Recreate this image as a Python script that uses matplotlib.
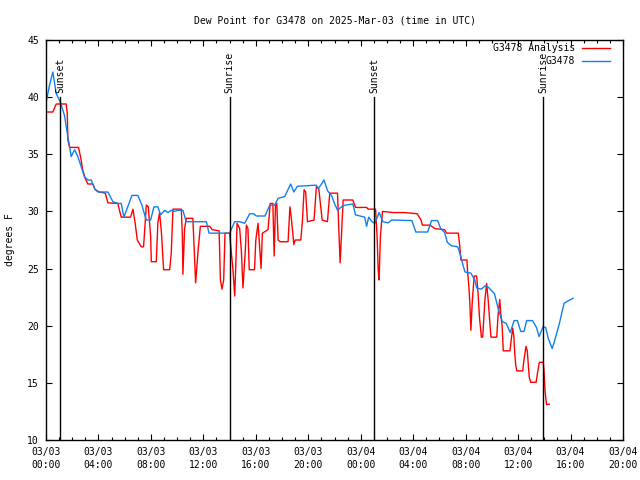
import pandas as pd
import matplotlib
matplotlib.use('Agg')
import matplotlib.pyplot as plt
from matplotlib.ticker import FixedLocator

start = pd.Timestamp('2025-03-03 00:00')
end = pd.Timestamp('2025-03-04 20:00')

# G3478 Analysis (red), hours after start
anaHours = [0.0, 0.52, 0.78, 1.54, 1.62, 1.67, 1.8, 2.48, 2.63, 2.81, 2.99, 3.19, 3.57, 3.75,
            4.08, 4.52, 4.72, 5.48, 5.6, 5.74, 6.45, 6.63, 6.8, 6.96, 7.27, 7.44, 7.65, 7.8,
            7.98, 8.03, 8.41, 8.53, 8.66, 8.8, 8.97, 9.43, 9.55, 9.68, 10.32, 10.4, 10.44,
            10.57, 10.7, 11.2, 11.3, 11.41, 11.6, 11.77, 12.48, 12.68, 13.2, 13.3, 13.42,
            13.55, 13.65, 14.0, 14.14, 14.25, 14.39, 14.47, 14.57, 14.77, 14.9, 15.02, 15.2,
            15.28, 15.4, 15.5, 15.9, 16.0, 16.17, 16.3, 16.4, 16.5, 16.93, 17.1, 17.3, 17.4,
            17.5, 17.6, 17.7, 17.85, 18.46, 18.6, 18.7, 18.9, 19.0, 19.43, 19.55, 19.68, 19.8,
            19.94, 20.44, 20.62, 20.8, 21.06, 21.46, 21.64, 22.23, 22.33, 22.43, 22.66, 23.4,
            23.6, 24.45, 24.57, 25.13, 25.25, 25.33, 25.4, 25.5, 25.66, 26.5, 27.37, 28.3,
            28.6, 28.7, 29.28, 29.66, 30.4, 30.55, 31.44, 31.55, 31.64, 32.1, 32.15, 32.25,
            32.32, 32.4, 32.5, 32.65, 32.84, 32.95, 33.05, 33.2, 33.3, 33.47, 33.6, 33.7,
            33.8, 33.93, 34.37, 34.48, 34.6, 34.68, 34.78, 34.87, 35.38, 35.5, 35.59, 35.68,
            35.75, 35.82, 35.9, 36.35, 36.45, 36.6, 36.7, 36.85, 36.96, 37.37, 37.5, 37.62,
            37.92, 37.98, 38.05, 38.1, 38.17, 38.38]
anaDew = [38.7, 38.7, 39.4, 39.4, 38.6, 36.25, 35.6, 35.6, 34.8, 33.6, 32.9, 32.4, 32.4, 31.9,
          31.7, 31.6, 30.75, 30.7, 30.1, 29.5, 29.5, 30.2, 28.96, 27.5, 26.9, 26.9, 30.55, 30.4,
          27.8, 25.6, 25.6, 29.0, 29.9, 28.2, 24.9, 24.9, 26.3, 30.2, 30.2, 27.8, 24.5,
          28.5, 29.4, 29.4, 26.6, 23.75, 26.6, 28.7, 28.7, 28.4, 28.3, 24.0, 23.2,
          24.0, 28.1, 28.1, 26.3, 25.0, 22.6, 25.2, 28.96, 28.5, 26.5, 23.3, 26.6,
          28.8, 28.5, 24.9, 24.9, 27.5, 28.96, 26.8, 25.0, 28.1, 28.4, 30.7, 30.7, 26.1,
          30.5, 30.7, 27.5, 27.35, 27.35, 30.4, 29.5, 27.1, 27.5, 27.5, 29.1, 31.9, 31.7,
          29.1, 29.25, 32.2, 32.0, 29.25, 29.1, 31.6, 31.6, 28.4, 25.5, 31.0, 31.0,
          30.35, 30.35, 30.2, 30.2, 27.8, 24.9, 24.0, 27.8, 30.0, 29.9, 29.9, 29.8,
          29.25, 28.8, 28.8, 28.5, 28.4, 28.1, 28.1, 27.0, 25.75, 25.75, 24.7, 23.4,
          22.0, 19.6, 22.0, 24.35, 24.35, 22.8, 20.8, 19.0, 19.0, 22.25, 23.7, 22.5,
          21.0, 19.0, 19.0, 21.05, 22.3, 21.05, 20.05, 17.8, 17.8, 19.0, 19.8, 19.0,
          17.5, 16.55, 16.05, 16.05, 17.0, 18.2, 17.8, 15.5, 15.05, 15.05, 16.0, 16.8,
          16.8, 16.0, 14.4, 13.8, 13.1, 13.13]

# G3478 observations (blue), hours after start
obsHours = [0.0, 0.26, 0.52, 0.78, 1.08, 1.41, 1.67, 1.8, 1.92, 2.18, 2.43, 2.69, 2.94, 3.19,
            3.45, 3.7, 3.95, 4.72, 5.1, 5.5, 5.74, 5.94, 6.2, 6.55, 7.0, 7.3, 7.5, 7.65, 7.98,
            8.23, 8.53, 8.74, 9.05, 9.3, 9.56, 9.8, 10.06, 10.44, 10.65, 10.7, 12.23, 12.43,
            14.0, 14.39, 14.77, 15.15, 15.53, 15.8, 16.04, 16.7, 17.06, 17.44, 17.7, 18.2,
            18.66, 18.9, 19.17, 20.6, 20.75, 20.95, 21.2, 21.47, 21.77, 22.0, 22.23, 22.53,
            22.8, 23.4, 23.6, 24.3, 24.45, 24.6, 24.87, 25.08, 25.4, 25.7, 26.1, 26.35, 27.9,
            28.2, 29.1, 29.4, 29.86, 30.1, 30.4, 30.6, 30.9, 31.4, 31.6, 31.8, 31.95, 32.4,
            32.7, 32.84, 33.2, 33.5, 33.7, 34.2, 34.5, 34.8, 35.1, 35.4, 35.7, 35.95, 36.2,
            36.45, 36.65, 37.1, 37.4, 37.6, 37.9, 38.1, 38.3, 38.6, 38.8, 39.15, 39.5, 39.85,
            40.2]
obsDew = [39.5, 41.0, 42.2, 40.3, 39.6, 38.4, 36.5, 35.7, 34.8, 35.4, 34.8, 33.9, 33.0, 32.75,
          32.75, 32.0, 31.7, 31.7, 30.85, 30.7, 30.7, 29.5, 30.3, 31.4, 31.4, 30.6, 29.8, 29.25,
          29.25, 30.4, 30.4, 29.7, 30.1, 29.9, 30.1, 30.0, 30.1, 30.1, 29.25, 29.1, 29.1, 28.1,
          28.1, 29.1, 29.1, 28.96, 29.8, 29.8, 29.6, 29.6, 30.55, 30.55, 31.15, 31.3,
          32.4, 31.7, 32.2, 32.3, 32.0, 32.3, 32.75, 31.8, 31.4, 30.7, 30.1, 30.4,
          30.55, 30.65, 29.7, 29.5, 28.7, 29.5, 29.1, 28.96, 29.9, 29.1, 29.0, 29.25, 29.2,
          28.2, 28.2, 29.2, 29.2, 28.5, 28.15, 27.3, 27.0, 26.9, 26.2, 25.3, 24.7, 24.6,
          24.0, 23.3, 23.2, 23.5, 23.4, 22.8, 21.4, 20.35, 20.2, 19.4, 20.45, 20.45, 19.5,
          19.5, 20.45, 20.45, 19.85, 19.05, 19.9, 19.85, 18.9, 18.0, 18.75, 20.2, 21.95, 22.2,
          22.4]

sunNames = ['Sunset', 'Sunrise', 'Sunset', 'Sunrise']
sunTimes = ['2025-03-03 01:04', '2025-03-03 14:00', '2025-03-04 01:03', '2025-03-04 13:55']

plt.rcParams['font.family'] = 'DejaVu Sans Mono'
plt.rcParams['font.size'] = 7

fig = plt.figure(figsize=(6.4, 4.8), dpi=100)
ax = fig.add_axes([46/640, 40/480, 577/640, 400/480])

anaTimes = start + pd.to_timedelta(anaHours, unit='h')
obsTimes = start + pd.to_timedelta(obsHours, unit='h')
ax.plot(anaTimes, anaDew, color='#ff0000', lw=1.0, label='G3478 Analysis')
ax.plot(obsTimes, obsDew, color='#1080f0', lw=1.0, label='G3478')

for name, t in zip(sunNames, sunTimes):
    t = pd.Timestamp(t)
    ax.plot([t, t], [10, 40], color='black', lw=1.0)
    ax.text(t, 40.35, name, rotation=90, ha='center', va='bottom')

ax.set_xlim(start, end)
ax.set_ylim(10, 45)

tickTimes = pd.date_range(start, end, freq='4h')
tickLabels = [t.strftime('%m/%d\n%H:%M') for t in tickTimes]
ax.set_xticks(tickTimes, tickLabels)
for lbl in ax.get_xticklabels():
    lbl.set_linespacing(1.35)
ax.xaxis.set_minor_locator(FixedLocator(matplotlib.dates.date2num(pd.date_range(start, end, freq='1h'))))
ax.set_yticks(range(10, 46, 5))

ax.tick_params(which='both', direction='in', top=True, right=True, width=0.8, colors='black')
ax.tick_params(which='major', length=4, pad=5)
ax.tick_params(which='minor', length=2)
for s in ax.spines.values():
    s.set_linewidth(1.0)

ax.set_title('Dew Point for G3478 on 2025-Mar-03 (time in UTC)', pad=12, fontsize=7)
ax.set_ylabel('degrees F', labelpad=9)

ax.legend(loc='upper right', bbox_to_anchor=(1 - 13/577, 1 - 3/400), frameon=False,
          markerfirst=False, handlelength=2.9, handletextpad=0.7, labelspacing=0.35,
          borderpad=0, borderaxespad=0, fontsize=7)

fig.savefig('out.png', dpi=100)
